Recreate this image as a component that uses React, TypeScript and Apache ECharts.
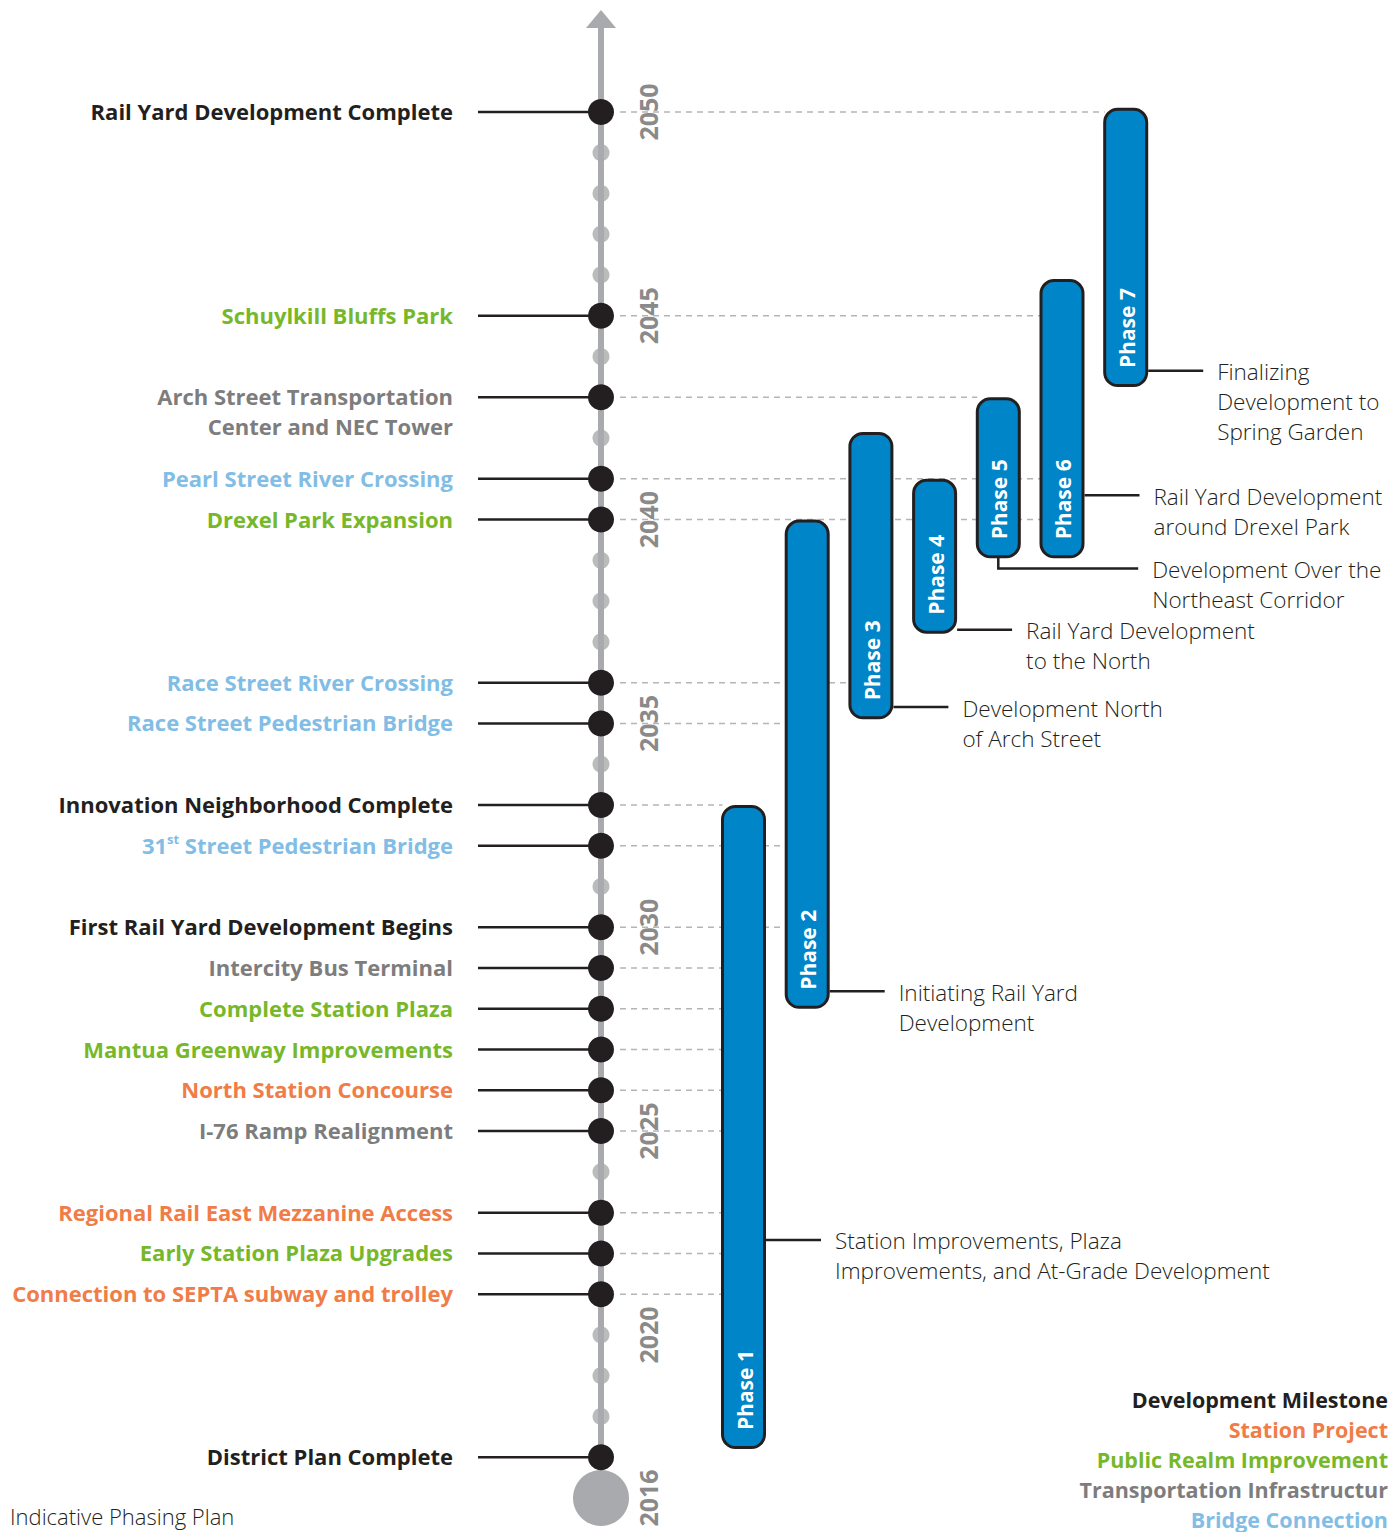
import React, { useEffect, useRef } from "react";
import * as echarts from "echarts";

// ---------------- DATA ----------------
const timelineStart = 2016;
const timelineEnd = 2050;
const yearTickLabels = [2016, 2020, 2025, 2030, 2035, 2040, 2045, 2050];

const milestoneYears = [2050, 2045, 2043, 2041, 2040, 2036, 2035, 2033, 2032, 2030, 2029, 2028, 2027, 2026, 2025, 2023, 2022, 2021, 2017];
const milestoneLabels = [
  "Rail Yard Development Complete",
  "Schuylkill Bluffs Park",
  "Arch Street Transportation\nCenter and NEC Tower",
  "Pearl Street River Crossing",
  "Drexel Park Expansion",
  "Race Street River Crossing",
  "Race Street Pedestrian Bridge",
  "Innovation Neighborhood Complete",
  "31{sup|st} Street Pedestrian Bridge",
  "First Rail Yard Development Begins",
  "Intercity Bus Terminal",
  "Complete Station Plaza",
  "Mantua Greenway Improvements",
  "North Station Concourse",
  "I-76 Ramp Realignment",
  "Regional Rail East Mezzanine Access",
  "Early Station Plaza Upgrades",
  "Connection to SEPTA subway and trolley",
  "District Plan Complete",
];
const milestoneTypes = [
  "milestone", "public", "transport", "bridge", "public", "bridge", "bridge", "milestone", "bridge",
  "milestone", "transport", "public", "public", "station", "transport", "station", "public", "station", "milestone",
];
// phase number whose bar the dashed guide runs to (0 = none)
const milestoneGuideTo = [7, 6, 5, 6, 6, 3, 2, 1, 2, 2, 1, 1, 1, 1, 1, 1, 1, 1, 0];

const phaseNames = ["Phase 1", "Phase 2", "Phase 3", "Phase 4", "Phase 5", "Phase 6", "Phase 7"];
const phaseStart = [2017.2, 2028, 2035.1, 2037.2, 2039.05, 2039.05, 2043.25];
const phaseEnd = [2033, 2040, 2042.15, 2041, 2043, 2045.9, 2050.1];
const phaseNotes = [
  "Station Improvements, Plaza\nImprovements, and At-Grade Development",
  "Initiating Rail Yard\nDevelopment",
  "Development North\nof Arch Street",
  "Rail Yard Development\nto the North",
  "Development Over the\nNortheast Corridor",
  "Rail Yard Development\naround Drexel Park",
  "Finalizing\nDevelopment to\nSpring Garden",
];
const phaseNoteYear = [2022.33, 2028.43, 2035.4, 2037.3, 2038.8, 2040.6, 2043.65];
const phaseNoteFromBottom = [false, false, false, false, true, false, false];

const legendLabels = ["Development Milestone", "Station Project", "Public Realm Improvement", "Transportation Infrastructur", "Bridge Connection"];
const legendTypes = ["milestone", "station", "public", "transport", "bridge"];

const chartTitle = "Indicative Phasing Plan";

// ---------------- STYLE ----------------
const typeColors: Record<string, string> = {
  milestone: "#231f20",
  station: "#f07c47",
  public: "#76b82a",
  transport: "#7d7d7d",
  bridge: "#82bde6",
};
const GREY = "#a9aaad";
const INK = "#231f20";
const BLUE = "#0085c8";
const FONT = "'Open Sans', Roboto, sans-serif";

const W = 1388;
const H = 1532;
const Y_MAX = 2052.5;
const AXIS_X = 601;
const LABEL_RIGHT = 453;
const CONNECTOR_LEFT = 478;
const GUIDE_LEFT = 620;
const YEAR_LABEL_X = 648;
const BAR_X0 = 743.5;
const BAR_STEP = 63.7;
const BAR_W = 42;
const LEADER = 55;
const NOTE_GAP = 14;

const barCenter = (i: number) => BAR_X0 + i * BAR_STEP;

export default function App() {
  const ref = useRef<HTMLDivElement>(null);

  useEffect(() => {
    document.body.style.margin = "0";
    if (!ref.current) return;
    const chart = echarts.init(ref.current, undefined, { renderer: "svg" });

    const dotYears: number[] = [];
    for (let y = timelineStart + 1; y < timelineEnd; y++) {
      if (!milestoneYears.includes(y)) dotYears.push(y);
    }

    const option: any = {
      animation: false,
      backgroundColor: "#ffffff",
      grid: { left: 0, right: 0, top: 10, bottom: 34 },
      xAxis: { type: "value", min: 0, max: W, show: false },
      yAxis: { type: "value", min: timelineStart, max: Y_MAX, show: false },
      series: [
        // spine with arrow and start circle
        {
          type: "custom",
          z: 1,
          data: [[AXIS_X, timelineStart]],
          renderItem: (_p: any, api: any) => {
            const b = api.coord([AXIS_X, timelineStart]);
            const t = api.coord([AXIS_X, Y_MAX]);
            return {
              type: "group",
              children: [
                { type: "line", shape: { x1: b[0], y1: b[1], x2: t[0], y2: t[1] + 12 }, style: { stroke: GREY, lineWidth: 6 } },
                { type: "polygon", shape: { points: [[t[0], t[1]], [t[0] - 15, t[1] + 18], [t[0] + 15, t[1] + 18]] }, style: { fill: GREY } },
                { type: "circle", shape: { cx: b[0], cy: b[1], r: 28 }, style: { fill: GREY } },
              ],
            };
          },
        },
        // dashed guides
        {
          type: "custom",
          z: 2,
          data: milestoneYears.map((y, i) => [AXIS_X, y, i]),
          renderItem: (_p: any, api: any) => {
            const i = api.value(2);
            const to = milestoneGuideTo[i];
            if (!to) return { type: "group", children: [] };
            const p = api.coord([GUIDE_LEFT, api.value(1)]);
            const e = api.coord([barCenter(to - 1) - BAR_W / 2, api.value(1)]);
            return {
              type: "line",
              shape: { x1: p[0], y1: p[1], x2: e[0], y2: e[1] },
              style: { stroke: "#b5b5b5", lineWidth: 1.5, lineDash: [6, 5] },
            };
          },
        },
        // small year dots
        {
          type: "scatter",
          z: 3,
          symbol: "circle",
          symbolSize: 17,
          itemStyle: { color: GREY },
          data: dotYears.map((y) => [AXIS_X, y]),
        },
        // milestones
        {
          type: "custom",
          z: 4,
          data: milestoneYears.map((y, i) => [AXIS_X, y, i]),
          renderItem: (_p: any, api: any) => {
            const i = api.value(2);
            const p = api.coord([AXIS_X, api.value(1)]);
            const l = api.coord([CONNECTOR_LEFT, api.value(1)]);
            const tx = api.coord([LABEL_RIGHT, api.value(1)]);
            const text = milestoneLabels[i];
            const lines = text.split("\n").length;
            const color = typeColors[milestoneTypes[i]];
            return {
              type: "group",
              children: [
                { type: "line", shape: { x1: l[0], y1: l[1], x2: p[0], y2: p[1] }, style: { stroke: INK, lineWidth: 2.5 } },
                { type: "circle", shape: { cx: p[0], cy: p[1], r: 13 }, style: { fill: INK } },
                {
                  type: "text",
                  x: tx[0],
                  y: tx[1] + ((lines - 1) * 30) / 2 - 1,
                  style: {
                    text,
                    fill: color,
                    fontFamily: FONT,
                    fontWeight: "bold",
                    fontSize: 22,
                    lineHeight: lines > 1 ? 30 : 24,
                    align: "right",
                    verticalAlign: "middle",
                    rich: {
                      sup: { fontSize: 13, fontWeight: "bold", fontFamily: FONT, fill: color, verticalAlign: "top", lineHeight: 15 },
                    },
                  },
                },
              ],
            };
          },
        },
        // year labels
        {
          type: "custom",
          z: 4,
          data: yearTickLabels.map((y) => [YEAR_LABEL_X, y]),
          renderItem: (_p: any, api: any) => {
            const p = api.coord([YEAR_LABEL_X, api.value(1)]);
            return {
              type: "text",
              x: p[0],
              y: p[1],
              rotation: Math.PI / 2,
              style: {
                text: String(api.value(1)),
                fill: "#8a8a8a",
                fontFamily: FONT,
                fontWeight: "bold",
                fontSize: 25,
                align: "center",
                verticalAlign: "middle",
              },
            };
          },
        },
        // phase bars
        {
          type: "custom",
          z: 5,
          data: phaseNames.map((_, i) => [barCenter(i), phaseStart[i], phaseEnd[i], i, phaseNoteYear[i]]),
          renderItem: (_p: any, api: any) => {
            const cx = api.value(0);
            const i = api.value(3);
            const top = api.coord([cx, api.value(2)]);
            const bot = api.coord([cx, api.value(1)]);
            const note = api.coord([cx + BAR_W / 2 + 1.5, api.value(4)]);
            const children: any[] = [
              {
                type: "rect",
                shape: { x: top[0] - BAR_W / 2, y: top[1] + 1.5, width: BAR_W, height: bot[1] - top[1] - 3, r: 13 },
                style: { fill: BLUE, stroke: INK, lineWidth: 3 },
              },
              {
                type: "text",
                x: top[0] + 1,
                y: bot[1] - 19,
                rotation: Math.PI / 2,
                style: {
                  text: phaseNames[i],
                  fill: "#ffffff",
                  fontFamily: FONT,
                  fontWeight: "bold",
                  fontSize: 21,
                  align: "left",
                  verticalAlign: "middle",
                },
              },
            ];
            let textX: number;
            if (phaseNoteFromBottom[i]) {
              const endX = note[0] + 2 * BAR_STEP + LEADER - BAR_W - 3 - 20;
              children.push({
                type: "polyline",
                shape: { points: [[top[0], bot[1] - 1], [top[0], note[1]], [endX, note[1]]] },
                style: { stroke: INK, lineWidth: 2.5, fill: null },
              });
              textX = endX + NOTE_GAP;
            } else {
              children.push({
                type: "line",
                shape: { x1: note[0], y1: note[1], x2: note[0] + LEADER, y2: note[1] },
                style: { stroke: INK, lineWidth: 2.5 },
              });
              textX = note[0] + LEADER + NOTE_GAP;
            }
            children.push({
              type: "text",
              x: textX,
              y: note[1] - 14,
              style: {
                text: phaseNotes[i],
                fill: INK,
                fontFamily: FONT,
                fontWeight: 300,
                fontSize: 22.5,
                lineHeight: 30,
                align: "left",
                verticalAlign: "top",
              },
            });
            return { type: "group", children };
          },
        },
      ],
      graphic: [
        ...legendLabels.map((t, i) => ({
          type: "text",
          x: W,
          y: 1399 + i * 30,
          style: {
            text: t,
            fill: typeColors[legendTypes[i]],
            fontFamily: FONT,
            fontWeight: "bold",
            fontSize: 21.5,
            align: "right",
            verticalAlign: "middle",
          },
        })),
        {
          type: "text",
          x: 10,
          y: 1516,
          style: {
            text: chartTitle,
            fill: INK,
            fontFamily: FONT,
            fontWeight: 300,
            fontSize: 22,
            align: "left",
            verticalAlign: "middle",
          },
        },
      ],
    };

    chart.setOption(option);
    return () => chart.dispose();
  }, []);

  return <div ref={ref} style={{ width: W, height: H }} />;
}
